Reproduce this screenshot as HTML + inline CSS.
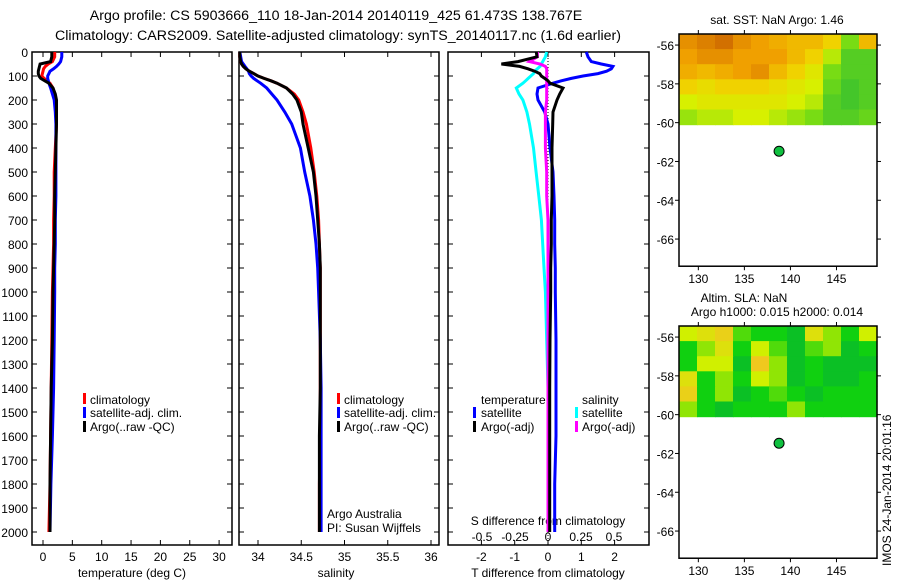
<!DOCTYPE html>
<html><head><meta charset="utf-8">
<style>
html,body{margin:0;padding:0;background:#fff;}
svg{display:block;font-family:"Liberation Sans",sans-serif;}
text{fill:#000;}
</style></head>
<body>
<svg id="c" width="900" height="580" viewBox="0 0 900 580" xmlns="http://www.w3.org/2000/svg">
<text x="336" y="20" font-size="14.2" text-anchor="middle">Argo profile: CS 5903666_110 18-Jan-2014 20140119_425 61.473S 138.767E</text>
<text x="338" y="40" font-size="14.2" text-anchor="middle">Climatology: CARS2009. Satellite-adjusted climatology: synTS_20140117.nc (1.6d earlier)</text>
<g id="g"></g>
</svg>
<script>
// ---- data ----
const depths = [0,20,40,50,60,70,80,90,100,110,120,130,150,175,200,250,300,400,500,600,700,800,900,1000,1200,1400,1600,1800,2000];
const tempClim = [2.0,2.0,1.6,0.9,0.4,0.1,0.0,-0.1,-0.2,0.2,0.7,1.2,1.7,2.0,2.2,2.3,2.3,2.1,1.9,1.9,1.8,1.8,1.7,1.6,1.5,1.4,1.3,1.2,1.0];
const tempSat = [3.2,3.2,3.0,2.7,2.3,1.8,1.2,1.0,0.8,0.8,0.9,1.0,1.3,1.6,1.9,2.1,2.2,2.2,2.2,2.2,2.1,2.1,2.0,2.0,1.9,1.8,1.6,1.35,1.2];
const tempArgo = [1.5,1.5,1.3,-0.5,-0.6,-0.7,-0.8,-0.8,-0.7,-0.4,0.3,1.0,1.7,2.1,2.3,2.3,2.3,2.2,2.1,2.0,2.0,1.9,1.8,1.7,1.6,1.4,1.3,1.2,1.2];
const salClim = [33.79,33.79,33.8,33.81,33.83,33.86,33.9,33.95,34.0,34.07,34.15,34.22,34.33,34.42,34.47,34.52,34.56,34.61,34.65,34.68,34.7,34.71,34.72,34.72,34.72,34.72,34.72,34.71,34.71];
const salSat = [33.79,33.8,33.81,33.83,33.85,33.87,33.89,33.9,33.92,33.95,33.99,34.03,34.1,34.16,34.22,34.31,34.39,34.49,34.54,34.6,34.64,34.67,34.69,34.7,34.72,34.73,34.73,34.73,34.73];
const salArgo = [33.79,33.79,33.8,33.81,33.83,33.86,33.9,33.95,34.0,34.07,34.15,34.22,34.33,34.4,34.45,34.5,34.52,34.58,34.64,34.67,34.69,34.71,34.72,34.72,34.72,34.72,34.71,34.71,34.71];
const tDiffSat = [1.15,1.2,1.3,1.6,1.95,1.9,1.76,1.5,1.05,0.7,0.4,0.15,-0.3,-0.33,-0.3,-0.1,0.0,0.06,0.15,0.18,0.2,0.2,0.22,0.22,0.24,0.24,0.24,0.2,0.2];
const tDiffArgo = [-0.35,-0.33,-0.9,-1.4,-0.85,-0.6,-0.4,-0.25,-0.2,-0.1,0.0,0.06,0.45,0.35,0.27,0.15,0.14,0.12,0.12,0.12,0.1,0.1,0.08,0.08,0.06,0.05,0.05,0.05,0.05];
const sDiffSat = [-0.01,-0.02,-0.04,-0.05,-0.06,-0.08,-0.1,-0.11,-0.13,-0.15,-0.17,-0.19,-0.24,-0.22,-0.19,-0.16,-0.14,-0.11,-0.09,-0.07,-0.05,-0.04,-0.03,-0.02,-0.01,0.0,0.01,0.01,0.01];
const sDiffArgo = [-0.08,-0.08,-0.14,-0.06,-0.02,-0.01,-0.01,-0.01,-0.01,-0.01,-0.01,-0.01,-0.01,-0.01,-0.01,-0.02,-0.02,-0.02,-0.01,-0.01,0,0,0,0,0,0,0,0,0];
const depthTicks = [0,100,200,300,400,500,600,700,800,900,1000,1100,1200,1300,1400,1500,1600,1700,1800,1900,2000];
const tempTicks = [0,5,10,15,20,25,30];
const salTicks = [34,34.5,35,35.5,36];
const salTickLabels = ["34","34.5","35","35.5","36"];
const tDiffTicks = [-2,-1,0,1,2];
const sDiffTicks = [-0.5,-0.25,0,0.25,0.5];
const sDiffLabels = ["-0.5","-0.25","0","0.25","0.5"];
const lonTicks = [130,135,140,145];
const latTicks = [-56,-58,-60,-62,-64,-66];
const argoLon = 138.767, argoLat = -61.473;
const sstGrid = [
 [0.85,0.9,0.95,0.85,0.8,0.75,0.7,0.7,0.6,0.3,0.7],
 [0.8,0.85,0.85,0.8,0.8,0.8,0.7,0.6,0.4,0.2,0.2],
 [0.75,0.7,0.75,0.8,0.85,0.7,0.6,0.5,0.3,0.2,0.2],
 [0.6,0.55,0.6,0.6,0.6,0.55,0.5,0.45,0.25,0.15,0.2],
 [0.45,0.5,0.5,0.5,0.5,0.5,0.45,0.4,0.2,0.15,0.2],
 [0.35,0.4,0.4,0.45,0.45,0.4,0.35,0.3,0.2,0.2,0.25]];
const slaGrid = [
 [0.6,0.7,0.8,0.4,0.3,0.3,0.2,0.7,0.5,0.3,0.6],
 [0.3,0.5,0.7,0.3,0.6,0.4,0.2,0.4,0.5,0.2,0.3],
 [0.3,0.6,0.6,0.2,0.85,0.5,0.2,0.3,0.2,0.2,0.2],
 [0.7,0.3,0.5,0.3,0.6,0.5,0.2,0.3,0.2,0.2,0.3],
 [0.8,0.3,0.5,0.2,0.3,0.4,0.3,0.2,0.3,0.3,0.3],
 [0.5,0.3,0.2,0.3,0.3,0.3,0.5,0.3,0.3,0.3,0.3]];

// ---- helpers ----
const NS="http://www.w3.org/2000/svg";
const G=document.getElementById('g');
function el(tag,attrs,parent,txt){const e=document.createElementNS(NS,tag);for(const k in attrs)e.setAttribute(k,attrs[k]);if(txt!==undefined)e.textContent=txt;(parent||G).appendChild(e);return e;}
const Y=d=>52+d*0.24;
const pTop=52,pBot=545;
function frame(x0,x1,name){const r=el('rect',{x:x0,y:pTop,width:x1-x0,height:pBot-pTop,fill:'none',stroke:'#000','stroke-width':1.5});

}
function depthTicksFor(x0,x1,labels){depthTicks.forEach(d=>{const y=Y(d);el('line',{x1:x0,x2:x0+5,y1:y,y2:y,stroke:'#000'});el('line',{x1:x1,x2:x1-5,y1:y,y2:y,stroke:'#000'});
if(labels){const t=el('text',{x:x0-4,y:y+5,'font-size':12,'text-anchor':'end'},G,String(d));

}});}
function line(xs,X,color,name,w){const pts=depths.map((d,i)=>X(xs[i]).toFixed(1)+','+Y(d).toFixed(1)).join(' ');
const p=el('polyline',{points:pts,fill:'none',stroke:color,'stroke-width':w||3});

}
function txt(x,y,s,name,anchor,size){const t=el('text',{x:x,y:y,'font-size':size||12,'text-anchor':anchor||'start'},G,s);

return t;}
function legBar(x,y,color){el('rect',{x:x,y:y-10,width:3,height:11,fill:color});}

// ---- panel 1: temperature ----
const XT=v=>43+v*5.87;
frame(32,232,'temperature-plot-frame');
depthTicksFor(32,232,true);
tempTicks.forEach(v=>{const x=XT(v);el('line',{x1:x,x2:x,y1:pBot,y2:pBot-5,stroke:'#000'});el('line',{x1:x,x2:x,y1:pTop,y2:pTop+5,stroke:'#000'});txt(x,561,String(v),'temperature-tick-label','middle');});
txt(132,577,'temperature (deg C)','temperature-axis-title','middle');
line(tempClim,XT,'#ff0000','temperature-climatology-line');
line(tempSat,XT,'#0000ff','temperature-satellite-line');
line(tempArgo,XT,'#000000','temperature-argo-line');
legBar(83,403,'#f00');txt(90,404,'climatology','legend-climatology');
legBar(83,417,'#00f');txt(90,417,'satellite-adj. clim.','legend-satellite-adj');
legBar(83,431,'#000');txt(90,431,'Argo(..raw -QC)','legend-argo');

// ---- panel 2: salinity ----
const XS=v=>258+(v-34)*86.5;
frame(239,439,'salinity-plot-frame');
depthTicksFor(239,439,false);
salTicks.forEach((v,i)=>{const x=XS(v);el('line',{x1:x,x2:x,y1:pBot,y2:pBot-5,stroke:'#000'});el('line',{x1:x,x2:x,y1:pTop,y2:pTop+5,stroke:'#000'});txt(x,561,salTickLabels[i],'salinity-tick-label','middle');});
txt(336,577,'salinity','salinity-axis-title','middle');
line(salClim,XS,'#ff0000','salinity-climatology-line');
line(salSat,XS,'#0000ff','salinity-satellite-line');
line(salArgo,XS,'#000000','salinity-argo-line');
legBar(337,403,'#f00');txt(344,404,'climatology','legend-climatology');
legBar(337,417,'#00f');txt(344,417,'satellite-adj. clim.','legend-satellite-adj');
legBar(337,431,'#000');txt(344,431,'Argo(..raw -QC)','legend-argo');
txt(327,518,'Argo Australia','institution-label');
txt(327,532,'PI: Susan Wijffels','pi-label');

// ---- panel 3: differences ----
const XD=v=>548+v*33.3;
const XSD=v=>548+v*132;
frame(448,649,'difference-plot-frame');
depthTicksFor(448,649,false);
tDiffTicks.forEach(v=>{const x=XD(v);el('line',{x1:x,x2:x,y1:pBot,y2:pBot-5,stroke:'#000'});el('line',{x1:x,x2:x,y1:pTop,y2:pTop+5,stroke:'#000'});txt(x,561,String(v),'t-diff-tick-label','middle');});
sDiffTicks.forEach((v,i)=>{txt(XSD(v),541,sDiffLabels[i],'s-diff-tick-label','middle');});
txt(548,525,'S difference from climatology','s-diff-axis-title','middle');
txt(548,577,'T difference from climatology','t-diff-axis-title','middle');
el('line',{x1:XD(0),x2:XD(0),y1:pTop,y2:pBot,stroke:'#000','stroke-dasharray':'1,2'});
line(sDiffSat,XSD,'#00ffff','s-diff-satellite-line');
line(tDiffSat,XD,'#0000ff','t-diff-satellite-line');
line(sDiffArgo,XSD,'#ff00ff','s-diff-argo-line');
line(tDiffArgo,XD,'#000000','t-diff-argo-line');
txt(481,404,'temperature','legend-temperature-heading');
legBar(473,417,'#00f');txt(481,417,'satellite','legend-t-satellite');
legBar(473,431,'#000');txt(481,431,'Argo(-adj)','legend-t-argo');
txt(582,404,'salinity','legend-salinity-heading');
legBar(575,417,'#0ff');txt(582,417,'satellite','legend-s-satellite');
legBar(575,431,'#f0f');txt(582,431,'Argo(-adj)','legend-s-argo');

// ---- maps ----
function lerpColor(stops,v){for(let i=1;i<stops.length;i++){if(v<=stops[i][0]){const a=stops[i-1],b=stops[i];const t=(v-a[0])/(b[0]-a[0]);
const c=a[1].map((x,k)=>Math.round(x+(b[1][k]-x)*t));return 'rgb('+c.join(',')+')';}}return 'rgb('+stops[stops.length-1][1].join(',')+')';}
const sstStops=[[0,[16,176,64]],[0.3,[120,220,20]],[0.45,[215,240,0]],[0.6,[240,210,0]],[0.8,[240,160,0]],[1,[200,96,0]]];
const slaStops=[[0,[0,160,80]],[0.3,[16,208,16]],[0.6,[208,240,0]],[0.85,[240,200,30]],[1,[240,160,30]]];
function drawMap(y0,grid,stops,name){
 const x0=679,x1=877,lon0=127.9,lon1=149.4,latTop=-55.43;
 const LX=l=>x0+(l-lon0)*(x1-x0)/(lon1-lon0);
 const LY=l=>y0+(latTop-l)*19.4;
 const y1=LY(-67.4);
 const rows=grid.length,cols=grid[0].length,latB=-60.1;
 const cw=(x1-x0)/cols,ch=(LY(latB)-y0)/rows;
 grid.forEach((row,r)=>row.forEach((v,c)=>{const cell=el('rect',{x:x0+c*cw,y:y0+r*ch,width:cw+0.6,height:ch+0.6,fill:lerpColor(stops,v)});
 
 }));
 const fr=el('rect',{x:x0,y:y0,width:x1-x0,height:y1-y0,fill:'none',stroke:'#000','stroke-width':1.5});
 
 
 latTicks.forEach(l=>{const y=LY(l);el('line',{x1:x0,x2:x0-4,y1:y,y2:y,stroke:'#000'});el('line',{x1:x1,x2:x1+4,y1:y,y2:y,stroke:'#000'});txt(x0-5,y+5,String(l),name+'-lat-label','end');});
 lonTicks.forEach(l=>{const x=LX(l);el('line',{x1:x,x2:x,y1:y1,y2:y1+4,stroke:'#000'});el('line',{x1:x,x2:x,y1:y0,y2:y0-4,stroke:'#000'});txt(x,y1+17,String(l),name+'-lon-label','middle');});
 const m=el('circle',{cx:LX(argoLon),cy:LY(argoLat),r:5,fill:'#10c040',stroke:'#000','stroke-width':1});
 
 
}
drawMap(34,sstGrid,sstStops,'sst-map');
drawMap(326,slaGrid,slaStops,'sla-map');
txt(777,24,'sat. SST: NaN Argo: 1.46','sst-map-title','middle');
txt(744,302,'Altim. SLA: NaN','sla-map-title','middle');
txt(777,316,'Argo h1000: 0.015 h2000: 0.014','sla-map-subtitle','middle');
const ts=txt(0,0,'IMOS 24-Jan-2014 20:01:16','timestamp-label','start',12);
ts.setAttribute('transform','translate(891,566) rotate(-90)');
</script>
</body></html>
